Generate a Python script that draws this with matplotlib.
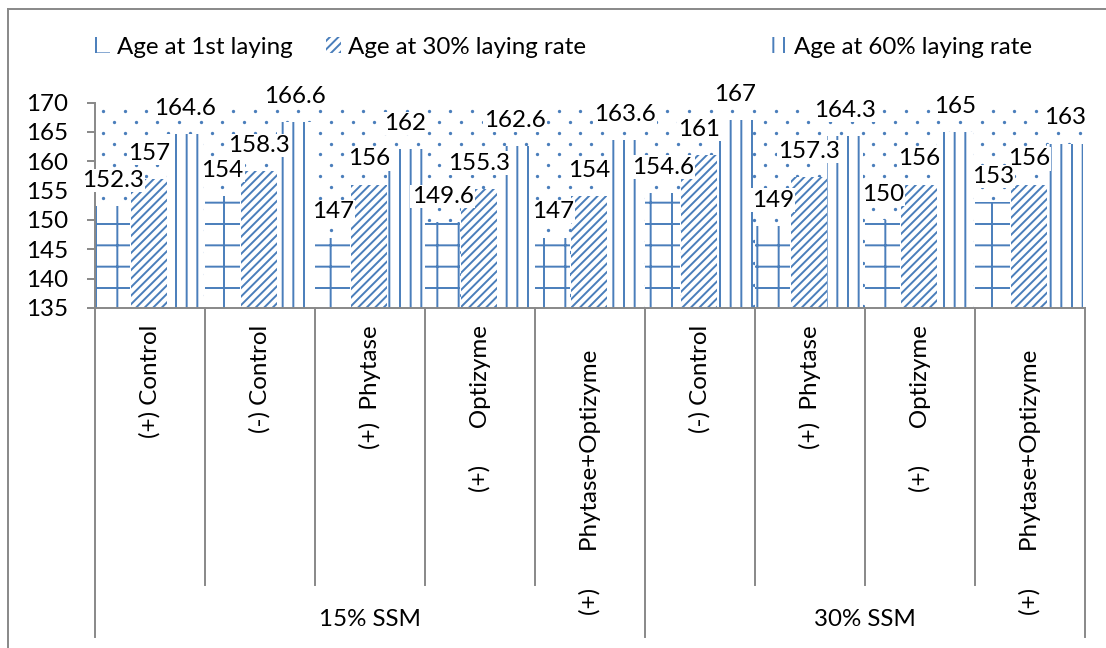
import matplotlib.pyplot as plt
import numpy as np
from matplotlib.patches import Patch
from matplotlib.lines import Line2D
from matplotlib.transforms import blended_transform_factory

plt.rcParams['font.family'] = ['Lato', 'DejaVu Sans']
plt.rcParams['hatch.linewidth'] = 1.1

treatments = ['(+) Control', '(-) Control', '(+)  Phytase', '(+)      Optizyme',
              '(+)      Phytase+Optizyme',
              '(-) Control', '(+)  Phytase', '(+)      Optizyme',
              '(+)      Phytase+Optizyme']
groups = ['15% SSM', '30% SSM']
group_sizes = [5, 4]

series_names = ['Age at 1st laying', 'Age at 30% laying rate', 'Age at 60% laying rate']
age_first = [152.3, 154, 147, 149.6, 147, 154.6, 149, 150, 153]
age_30 = [157, 158.3, 156, 155.3, 154, 161, 157.3, 156, 156]
age_60 = [164.6, 166.6, 162, 162.6, 163.6, 167, 164.3, 165, 163]

blue = '#4a7ebb'
grey = '#898989'
fs = 13.6

W, H, DPI = 1106, 648, 128
fig = plt.figure(figsize=(W / DPI, H / DPI), dpi=DPI)
ax = fig.add_axes([95 / W, 1 - 308 / H, 990 / W, 205.5 / H])

x = np.arange(len(treatments))
width = 0.325
hatches = ['+', '/////', '||']
offsets = [-0.34, -0.01, 0.32]
for n, (vals, h, off) in enumerate(zip([age_first, age_30, age_60], hatches, offsets)):
    bars = ax.bar(x + off, vals, width, facecolor='white', edgecolor=blue,
                  hatch=h, linewidth=0, zorder=2)
    for b, v in zip(bars, vals):
        # earlier series' labels sit on top where boxes touch
        ax.annotate(f'{v:g}', (b.get_x() + b.get_width() / 2, v),
                    xytext=(0, 14.5), textcoords='offset points',
                    ha='center', va='center', fontsize=fs, zorder=8 - n,
                    annotation_clip=False,
                    bbox=dict(boxstyle='square,pad=0.05', fc='white', ec='none'))

ax.set_xlim(-0.5, len(treatments) - 0.5)
ax.set_ylim(135, 170)
ax.set_yticks(np.arange(135, 171, 5))
ax.set_xticks([])
ax.tick_params(axis='y', labelsize=fs, length=4.5, width=1.1, color=grey, pad=10.5)
for s in ['top', 'right']:
    ax.spines[s].set_visible(False)
for s in ['left', 'bottom']:
    ax.spines[s].set_color(grey)
    ax.spines[s].set_linewidth(1.1)

# dotted plot-area fill
fig.canvas.draw()
bb = ax.get_window_extent()
dx, dy = 21.7, 10.85
px, py = [], []
for i, yy in enumerate(np.arange(8.5, bb.height, dy)):
    start = 8 + (dx / 2 if i % 2 else 0)
    for xx in np.arange(start, bb.width, dx):
        px.append(xx / bb.width)
        py.append(1 - yy / bb.height)
ax.scatter(px, py, s=3.5, color=blue, linewidths=0, transform=ax.transAxes, zorder=0.5)

# category labels and separators below the axis
trans = blended_transform_factory(ax.transData, fig.transFigure)
for xi, lab in zip(x, treatments):
    top = 350 if 'Phytase+' in lab else 325
    ax.text(xi, 1 - top / H, lab, transform=trans, rotation=90,
            ha='center', va='top', fontsize=fs)

bounds = np.cumsum([0] + group_sizes) - 0.5
for k in np.arange(len(treatments) + 1) - 0.5:
    low = 637 if k in bounds else 585
    ax.add_line(Line2D([k, k], [1 - 308 / H, 1 - low / H], transform=trans,
                       color=grey, lw=1.1, clip_on=False))
for g, a, b in zip(groups, bounds[:-1], bounds[1:]):
    ax.text((a + b) / 2, 1 - 620 / H, g, transform=trans,
            ha='center', va='center', fontsize=fs)

# legend entries
for name, h, lx in zip(series_names, hatches, [95, 326, 772]):
    handle = Patch(facecolor='white', edgecolor=blue, hatch=h, linewidth=0)
    fig.legend([handle], [name], loc='center left', bbox_to_anchor=(lx / W, 1 - 47 / H),
               frameon=False, fontsize=fs, handlelength=0.6, handleheight=0.6,
               handletextpad=0.3, borderpad=0, borderaxespad=0)

# outer frame
fig.add_artist(Line2D([8 / W, 8 / W], [0, 1 - 9 / H], color=grey, lw=1.1))
fig.add_artist(Line2D([8 / W, 1], [1 - 9 / H, 1 - 9 / H], color=grey, lw=1.1))

fig.savefig('out.png', dpi=DPI)
